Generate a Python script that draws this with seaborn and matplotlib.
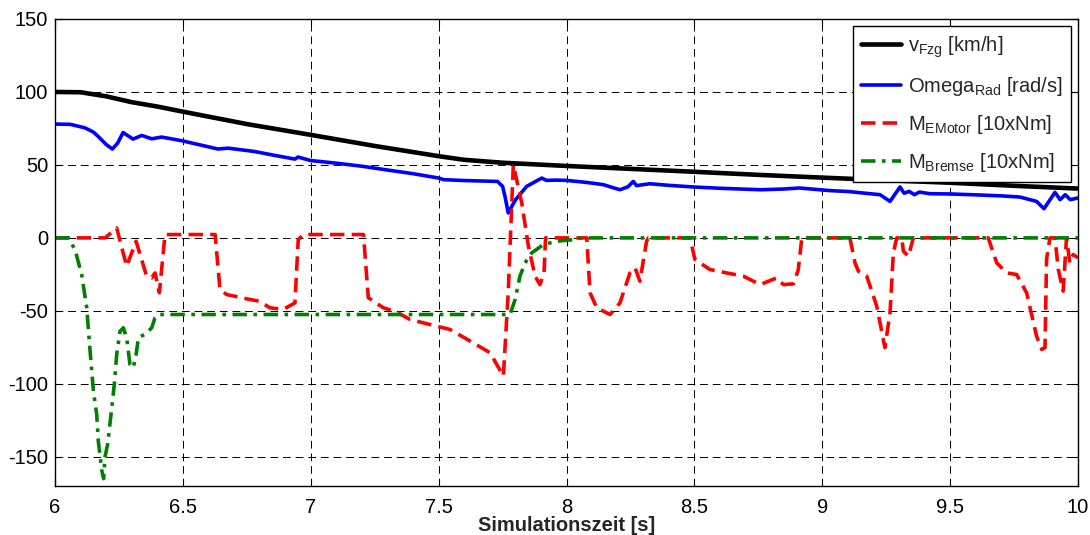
import numpy as np
import pandas as pd
import seaborn as sns
import matplotlib
matplotlib.use("Agg")
import matplotlib.pyplot as plt

# vehicle speed
t_v = [6.0, 6.1, 6.2, 6.3, 6.4, 6.5, 6.75, 7.0, 7.25, 7.5, 7.6, 7.75, 8.0,
       8.25, 8.5, 8.75, 9.0, 9.25, 9.5, 9.75, 10.0]
v_fzg = [100, 99.8, 97, 93, 90, 86.5, 78, 70.6, 63, 56, 53.5, 51.5, 49.3,
         47.3, 45.3, 43.2, 41.3, 39.5, 37.8, 35.7, 33.8]

# wheel speed
t_w = [6.0, 6.06, 6.117, 6.15, 6.17, 6.2, 6.224, 6.245, 6.266, 6.285, 6.305,
       6.339, 6.378, 6.417, 6.495, 6.56, 6.637, 6.677, 6.78, 6.86, 6.938, 6.95,
       7.0, 7.1, 7.205, 7.3, 7.4, 7.5, 7.52, 7.6, 7.73, 7.75, 7.76, 7.772, 7.8,
       7.844, 7.903, 7.922, 7.96, 8.0, 8.079, 8.144, 8.18, 8.209, 8.24, 8.261,
       8.274, 8.3, 8.326, 8.4, 8.496, 8.6, 8.76, 8.85, 8.91, 9.03, 9.1, 9.226,
       9.265, 9.304, 9.32, 9.34, 9.36, 9.38, 9.42, 9.5, 9.6, 9.7, 9.773, 9.838,
       9.867, 9.91, 9.93, 9.95, 9.97, 10.0]
w_rad = [78, 77.8, 75.4, 72.5, 69.3, 64, 60.9, 65, 72.2, 70, 67.7,
         70.2, 67.9, 69.1, 66.6, 64, 60.9, 61.5, 59.2, 56.5, 54, 55.4,
         53, 51.2, 49, 46.5, 44, 41, 39.9, 39.3, 38.7, 35.3, 28, 17.1, 26,
         35.3, 41, 39.4, 39.6, 39.4, 38, 36.5, 34.5, 33, 35, 38.7,
         35.8, 36.5, 37.1, 36, 34.9, 34, 33, 33.5, 34.2, 32.4, 31.8, 29.6,
         25, 34.9, 30.6, 31.9, 29.6, 31.4, 30.3, 30.1, 29.5, 28.8, 28, 25,
         20, 31.2, 26.2, 29.6, 26.2, 27.4]

# e-motor torque
t_m = [6.0, 6.06, 6.196, 6.241, 6.28, 6.317, 6.358, 6.378, 6.391, 6.408,
       6.43, 6.45, 6.626, 6.645, 6.671, 6.762, 6.8, 6.84, 6.893, 6.938, 6.951,
       6.971, 7.206, 7.225, 7.284, 7.336, 7.388, 7.492, 7.544, 7.623, 7.701,
       7.753, 7.772, 7.792, 7.825, 7.851, 7.877, 7.896, 7.912, 7.918, 8.079,
       8.092, 8.118, 8.17, 8.209, 8.248, 8.268, 8.287, 8.313, 8.32, 8.483,
       8.502, 8.561, 8.626, 8.691, 8.757, 8.822, 8.848, 8.887, 8.906, 8.92,
       9.108, 9.128, 9.141, 9.174, 9.213, 9.245, 9.265, 9.278, 9.291, 9.311,
       9.317, 9.337, 9.356, 9.649, 9.682, 9.721, 9.76, 9.799, 9.838, 9.858,
       9.871, 9.877, 9.89, 9.91, 9.923, 9.942, 9.955, 9.968, 9.981, 10.0]
m_motor = [0, 0, 0, 6.8, -19.4, -2.3, -26.2, -27.4, -24, -37.6,
           2.3, 2.3, 2.3, -35.4, -38.8, -42.2, -43.4, -47.9, -49, -44.5, -1.2,
           2.3, 2.3, -41, -47.9, -50.9, -55.9, -60.5, -62.7, -70.7, -78.7,
           -94.7, -37.6, 50.1, 23.9, -5.7, -26.2, -32, -24, 0, 0,
           -37.6, -47.9, -52.5, -44.5, -24, -20.5, -29.7, -2.3, 0, 0,
           -14.8, -21.7, -24, -26.2, -32, -27.4, -32, -31.5, -22, 0,
           0, -17.1, -22.8, -26.2, -46.8, -75.2, -51.3, -10.3, 0, 0,
           -9.1, -12.6, 0, 0, -17.1, -24, -25.1, -37.6, -67.3, -76.4,
           -75.2, -14.8, 0, 0, -21.7, -36.5, 0, -17.1, -11.4, -13.7]

# brake torque
t_b = [6.0, 6.052, 6.078, 6.104, 6.124, 6.137, 6.15, 6.163, 6.169, 6.183,
       6.19, 6.195, 6.206, 6.222, 6.232, 6.241, 6.254, 6.267, 6.28, 6.293,
       6.306, 6.317, 6.326, 6.352, 6.378, 6.391, 6.404, 7.779, 7.799, 7.818,
       7.838, 7.864, 7.909, 7.961, 8.027, 8.06, 10.0]
m_brake = [0, 0, -8, -25, -48, -77.6, -105, -121, -139, -159.6,
           -165, -150.5, -141, -116, -100, -80, -64, -61.6, -68.4, -86.7,
           -89, -80, -68.4, -66, -61.6, -54.7, -52.5, -52.5, -42.2, -26.2,
           -17.1, -10.3, -4.6, -2.3, -1.2, 0, 0]

labels = [r'v$_{\mathrm{Fzg}}$ [km/h]', r'Omega$_{\mathrm{Rad}}$ [rad/s]',
          r'M$_{\mathrm{EMotor}}$ [10xNm]', r'M$_{\mathrm{Bremse}}$ [10xNm]']

sns.set_theme(style="ticks")
plt.rcParams['font.family'] = ['Liberation Sans', 'DejaVu Sans']
plt.rcParams['mathtext.fontset'] = 'custom'
plt.rcParams['mathtext.rm'] = 'Liberation Sans'
plt.rcParams['mathtext.default'] = 'regular'
plt.rcParams['axes.unicode_minus'] = False

fig = plt.figure(figsize=(10.9, 5.35), dpi=100)
ax = fig.add_axes([0.0505, 0.0916, 0.9385, 0.8729])

sns.lineplot(x=t_v, y=v_fzg, ax=ax, color='black', lw=3.3, label=labels[0],
             estimator=None, sort=False)
sns.lineplot(x=t_w, y=w_rad, ax=ax, color='#0000ff', lw=2.6, label=labels[1],
             estimator=None, sort=False)
sns.lineplot(x=t_m, y=m_motor, ax=ax, color='#ff0000', lw=2.6, label=labels[2],
             linestyle=(0, (4, 2)), estimator=None, sort=False)
sns.lineplot(x=t_b, y=m_brake, ax=ax, color='#008000', lw=2.6, label=labels[3],
             linestyle=(0, (4, 1.8, 1, 1.8)), estimator=None, sort=False)

ax.set_xlim(6, 10)
ax.set_ylim(-170, 150)
ax.set_xticks([6, 6.5, 7, 7.5, 8, 8.5, 9, 9.5, 10])
ax.set_xticklabels(['6', '6.5', '7', '7.5', '8', '8.5', '9', '9.5', '10'])
ax.set_yticks([-150, -100, -50, 0, 50, 100, 150])
ax.grid(True, color='black', lw=0.7, linestyle=(0, (8, 5)))
ax.tick_params(direction='in', top=True, right=True, labelsize=14.5,
               length=5, width=0.8, colors='black')
ax.tick_params(axis='x', pad=9)
ax.tick_params(axis='y', pad=5)
for s in ax.spines.values():
    s.set_color('black')
    s.set_linewidth(1.0)
ax.set_xlabel('Simulationszeit [s]', fontsize=14.5, fontweight='bold', labelpad=-1)
ax.set_ylabel('')

leg = ax.legend(loc='upper right', fontsize=14.5, frameon=True, fancybox=False,
                edgecolor='black', framealpha=1, handlelength=2.0,
                borderaxespad=0.35, labelspacing=0.75, handletextpad=0.35,
                borderpad=0.4)
leg.get_frame().set_linewidth(1.0)

fig.savefig('out.png', dpi=100)
